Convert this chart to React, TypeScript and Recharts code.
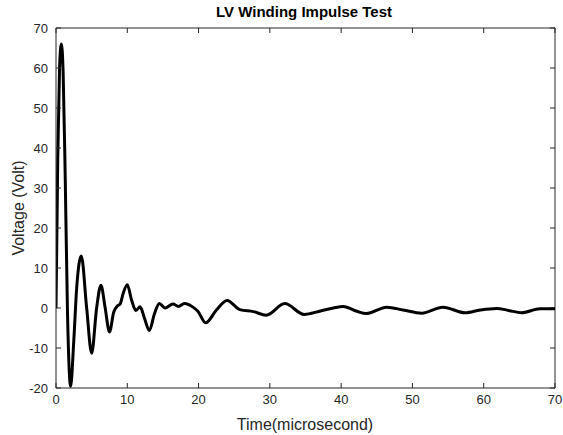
import { LineChart, Line, XAxis, YAxis, Label, ReferenceLine } from "recharts";

// time in microseconds, voltage in volts
const timeUs = [
  0, 0.25, 0.5, 0.75, 1.0, 1.3, 1.6, 2.05, 2.5, 2.9, 3.55, 4.3, 5.0, 5.7, 6.3, 6.9, 7.5, 8.1, 8.6,
  9.0, 9.4, 10.0, 10.6, 11.2, 11.8, 12.4, 13.1, 13.8, 14.5, 15.3, 16.4, 17.2, 18.0, 19.3, 19.9,
  21.0, 22.5, 24.0, 25.8, 27.7, 29.5, 32.1, 34.8, 37.0, 38.9, 40.3, 42.2, 43.5, 46.4, 48.7, 51.3,
  54.3, 57.4, 59.5, 61.8, 63.5, 65.3, 67.9, 70,
];
const voltage = [
  0, 38, 60, 66, 59, 32, 0, -19.6, -8, 5, 13, 0, -11.3, 0, 5.7, 0, -6, -1, 0.5,
  1, 3.5, 5.8, 2, -0.6, 0.3, -2.5, -5.6, -1.5, 1.1, 0, 1, 0.4, 1.1, 0.1, -0.8,
  -3.7, -0.5, 1.9, -0.4, -0.9, -1.8, 1.1, -1.6, -0.8, 0, 0.4, -0.8, -1.4, 0.2, -0.5, -1.3,
  0.2, -1.2, -0.5, -0.1, -0.6, -1.2, -0.2, -0.2,
];
const xTicks = [0, 10, 20, 30, 40, 50, 60, 70];
const yTicks = [-20, -10, 0, 10, 20, 30, 40, 50, 60, 70];

const data = timeUs.map((t, i) => ({ t, v: voltage[i] }));

const axisColor = "#262626";
const font = "Liberation Sans, Arial, sans-serif";
const tickStyle = { fill: "#262626", fontSize: 13, fontFamily: font };

export default function App() {
  return (
    <div style={{ position: "absolute", left: 0, top: 0, width: 563, height: 435, background: "#fff" }}>
      <div
        style={{
          position: "absolute",
          left: 0,
          width: 608,
          top: 3,
          textAlign: "center",
          fontFamily: font,
          fontWeight: "bold",
          fontSize: 15,
          color: "#000",
        }}
      >
        LV Winding Impulse Test
      </div>
      <LineChart width={563} height={435} data={data} margin={{ top: 28, right: 8, bottom: 0, left: 0 }}>
        <XAxis
          dataKey="t"
          type="number"
          domain={[0, 70]}
          ticks={xTicks}
          allowDataOverflow
          height={47}
          tickSize={-5}
          tickMargin={12}
          stroke={axisColor}
          tick={tickStyle}
        >
          <Label
            content={() => (
              <text x={305} y={430} textAnchor="middle" fill="#262626" fontSize={16} fontFamily={font}>
                Time(microsecond)
              </text>
            )}
          />
        </XAxis>
        <YAxis
          type="number"
          domain={[-20, 70]}
          ticks={yTicks}
          width={56}
          tickSize={-5}
          tickMargin={13}
          stroke={axisColor}
          tick={tickStyle}
        >
          <Label
            content={() => (
              <text
                x={18}
                y={208}
                transform="rotate(-90 18 208)"
                textAnchor="middle"
                dominantBaseline="central"
                fill="#262626"
                fontSize={16}
                fontFamily={font}
              >
                Voltage (Volt)
              </text>
            )}
          />
        </YAxis>
        {/* box: top and right edges with inward ticks */}
        <ReferenceLine y={70} stroke={axisColor} ifOverflow="extendDomain" />
        <ReferenceLine x={70} stroke={axisColor} ifOverflow="extendDomain" />
        {xTicks.map((t) => (
          <ReferenceLine
            key={"tx" + t}
            segment={[
              { x: t, y: 70 },
              { x: t, y: 68.75 },
            ]}
            stroke={axisColor}
          />
        ))}
        {yTicks.map((v) => (
          <ReferenceLine
            key={"ty" + v}
            segment={[
              { x: 70, y: v },
              { x: 69.3, y: v },
            ]}
            stroke={axisColor}
          />
        ))}
        <Line
          type="monotone"
          dataKey="v"
          stroke="#000"
          strokeWidth={3}
          dot={false}
          isAnimationActive={false}
        />
      </LineChart>
    </div>
  );
}
